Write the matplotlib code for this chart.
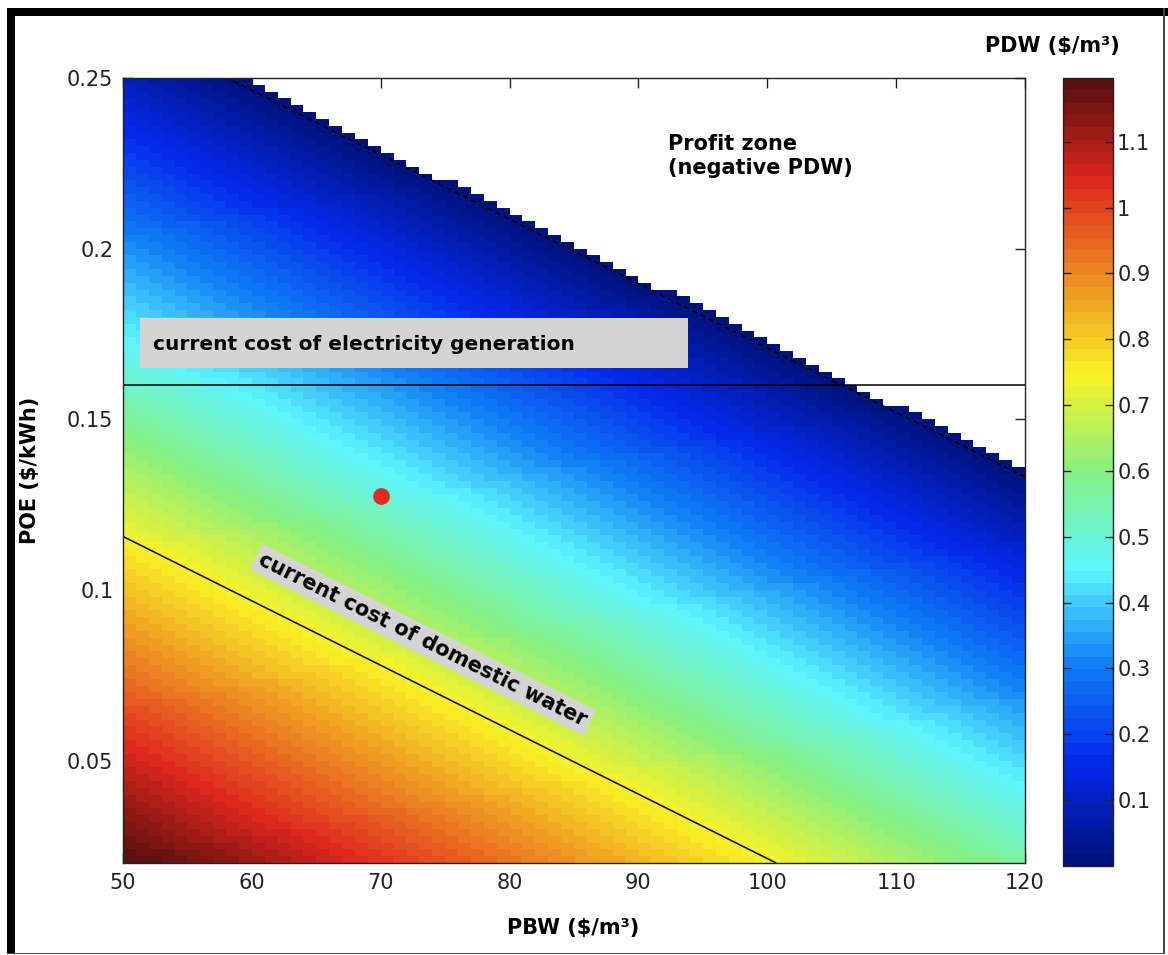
import numpy as np
import matplotlib
matplotlib.use("Agg")
import matplotlib.pyplot as plt
from matplotlib.colors import LinearSegmentedColormap, Normalize
from matplotlib.patches import Rectangle

# ---------------- data ----------------
pbw = np.arange(50, 121, 1)                          # PBW grid ($/m3)
poe = np.round(np.arange(0.02, 0.2501, 0.002), 3)   # POE grid ($/kWh)
# plane fitted to the picture: PDW = c0 + c_pbw*PBW + c_poe*POE
pdw_c0 = 1.755
pdw_c_pbw = -0.00921
pdw_c_poe = -4.88
electricity_cost = 0.16      # $/kWh (horizontal line)
domestic_water_cost = 0.73   # $/m3 (solid contour)
current_point_pbw = [70]
current_point_poe = [0.1275]
xticks = [50, 60, 70, 80, 90, 100, 110, 120]
yticks = [0.05, 0.1, 0.15, 0.2, 0.25]
cticks = [0.1, 0.2, 0.3, 0.4, 0.5, 0.6, 0.7, 0.8, 0.9, 1.0, 1.1]

# ---------------- figure ----------------
plt.rcParams['font.family'] = ['DejaVu Sans']
W, H = 1168, 955
fig = plt.figure(figsize=(W / 100, H / 100), dpi=100)

PBW, POE = np.meshgrid(pbw, poe)
Z = pdw_c0 + pdw_c_pbw * PBW + pdw_c_poe * POE
C = Z[:-1, :-1]                      # MATLAB pcolor style (lower-left vertex)
Cm = np.ma.masked_less(C, 0)

# muted MATLAB-like jet, 64 levels
anchors = [(0.0, (0/255, 18/255, 125/255)),
           (0.125, (5/255, 40/255, 235/255)),
           (0.25, (15/255, 125/255, 245/255)),
           (0.375, (95/255, 245/255, 255/255)),
           (0.5, (135/255, 240/255, 130/255)),
           (0.625, (250/255, 242/255, 40/255)),
           (0.75, (238/255, 140/255, 35/255)),
           (0.875, (222/255, 38/255, 30/255)),
           (1.0, (90/255, 16/255, 14/255))]
cmap = LinearSegmentedColormap.from_list('mjet', anchors, N=64)
cmap.set_bad((1, 1, 1, 0))
norm = Normalize(vmin=Cm.min(), vmax=Cm.max())

ax = fig.add_axes([123 / W, 1 - 863 / H, (1025 - 123) / W, (863 - 78) / H])
ax.set_axisbelow(True)
mesh = ax.pcolormesh(pbw, poe, Cm, cmap=cmap, norm=norm, shading='flat', zorder=1)
ax.contour(PBW, POE, Z, levels=[0], colors='k', linestyles=[(0, (3, 2.5))], linewidths=1.2, zorder=2)
ax.contour(PBW, POE, Z, levels=[domestic_water_cost], colors='k', linewidths=1.1, zorder=2)
ax.axhline(electricity_cost, color='k', lw=1.1, zorder=2)
ax.plot(current_point_pbw, current_point_poe, 'o', color='#e02a22', ms=11, mec='#e02a22', zorder=3)

ax.set_xlim(50, 120)
ax.set_ylim(0.02, 0.25)
ax.set_xticks(xticks)
ax.set_yticks(yticks)
ax.set_xticklabels([str(t) for t in xticks])
ax.set_yticklabels(['0.05', '0.1', '0.15', '0.2', '0.25'])
ax.tick_params(direction='in', length=7, width=1, top=True, right=True,
               labelsize=15, colors='#222222', pad=7)
for s in ax.spines.values():
    s.set_linewidth(1.0)
    s.set_color('#222222')

ax.set_xlabel('PBW ($/m³)', fontsize=15, fontweight='bold')
ax.set_ylabel('POE ($/kWh)', fontsize=15, fontweight='bold')
ax.xaxis.set_label_coords((573 - 123) / 902, (863 - 918) / 785)
ax.yaxis.set_label_coords((40 - 123) / 902, (863 - 470) / 785)

# annotations
ax.text((668 - 123) / 902, 1 - (134 - 78) / 785, 'Profit zone\n(negative PDW)',
        transform=ax.transAxes, fontsize=15, fontweight='bold', ha='left', va='top',
        linespacing=1.25)
ax.add_patch(Rectangle((17 / 902, (863 - 368) / 785), (688 - 140) / 902, 50 / 785,
                       transform=ax.transAxes, facecolor='#d4d4d4', edgecolor='none', zorder=4))
ax.text(30 / 902, (863 - 344) / 785, 'current cost of electricity generation',
        transform=ax.transAxes, fontsize=14.5, fontweight='bold', ha='left', va='center', zorder=5)
ax.text((423 - 123) / 902, (863 - 640) / 785, 'current cost of domestic water',
        transform=ax.transAxes, fontsize=15, fontweight='bold', ha='center', va='center',
        rotation=-26.5, rotation_mode='anchor', zorder=5,
        bbox=dict(boxstyle='square,pad=0.2', facecolor='#d4d4d4', edgecolor='none'))

# colorbar
cax = fig.add_axes([1063 / W, 1 - 866 / H, 50 / W, (866 - 78) / H])
cb = fig.colorbar(mesh, cax=cax, ticks=cticks)
cb.ax.set_yticklabels(['0.1', '0.2', '0.3', '0.4', '0.5', '0.6', '0.7', '0.8', '0.9', '1', '1.1'])
cb.ax.tick_params(direction='in', length=6, width=1, left=True, right=True,
                  labelsize=15, colors='#222222', pad=3)
cb.outline.set_linewidth(1.0)
cb.outline.set_edgecolor('#222222')
fig.text(1120 / W, 1 - 46 / H, 'PDW ($/m³)', fontsize=15, fontweight='bold', ha='right', va='center')

# window-style border
fig.patches.append(Rectangle((7 / W, 1 - 16 / H), 1 - 7 / W, 8 / H, transform=fig.transFigure,
                             facecolor='black', edgecolor='none'))
fig.patches.append(Rectangle((7 / W, 1 - 953 / H), 8 / W, (953 - 8) / H, transform=fig.transFigure,
                             facecolor='black', edgecolor='none'))
fig.patches.append(Rectangle((7 / W, 1 - 954 / H), (1164 - 7) / W, 1.5 / H, transform=fig.transFigure,
                             facecolor='#444444', edgecolor='none'))
fig.patches.append(Rectangle((1163 / W, 1 - 954 / H), 1.5 / W, (954 - 8) / H, transform=fig.transFigure,
                             facecolor='#444444', edgecolor='none'))

fig.savefig('out.png', dpi=100)
